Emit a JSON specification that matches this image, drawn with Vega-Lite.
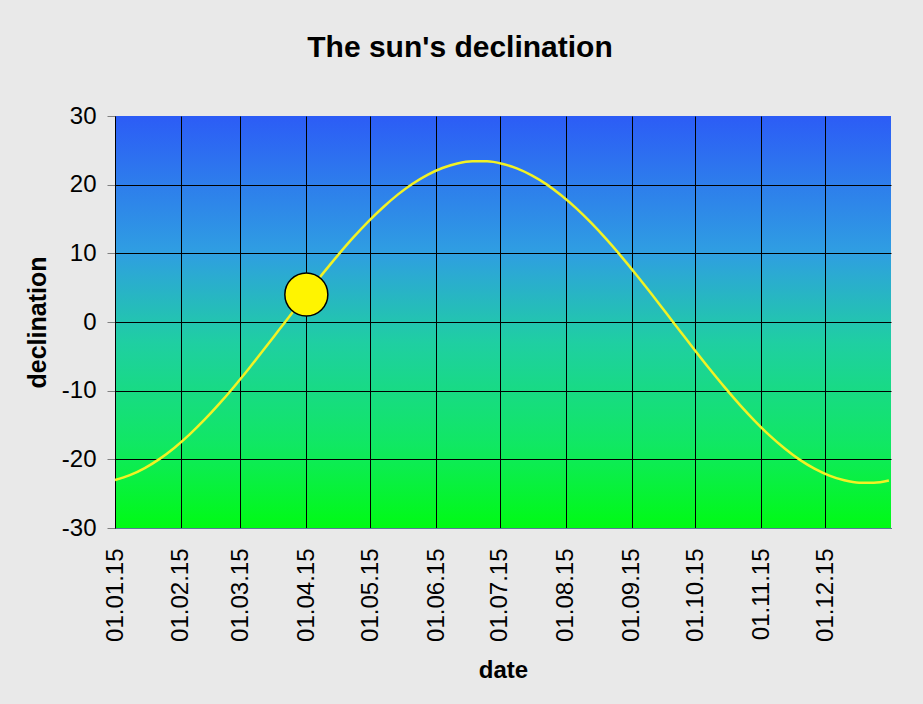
{
  "$schema": "https://vega.github.io/schema/vega-lite/v6.json",
  "width": 776,
  "height": 412,
  "autosize": "none",
  "padding": {"left": 115, "top": 116, "right": 32, "bottom": 176},
  "background": "#e9e9e9",
  "config": {
    "font": "Liberation Sans",
    "view": {
      "stroke": null,
      "fill": {
        "gradient": "linear",
        "x1": 0, "y1": 0, "x2": 0, "y2": 1,
        "stops": [
          {"offset": 0, "color": "#2c5cf6"},
          {"offset": 0.33, "color": "#2f9ee2"},
          {"offset": 0.55, "color": "#1fcfa2"},
          {"offset": 0.8, "color": "#10e862"},
          {"offset": 1, "color": "#00fb14"}
        ]
      }
    }
  },
  "title": {
    "text": "The sun's declination",
    "fontSize": 30,
    "fontWeight": "bold",
    "font": "Liberation Sans",
    "color": "black",
    "frame": "group",
    "anchor": "middle",
    "dx": -43,
    "baseline": "alphabetic",
    "offset": 17
  },
  "datasets": {
    "sun": [{"date": "2015-04-01", "decl": 4.0}],
    "curve": [
      {"date": "2015-01-01", "decl": -23.01},
      {"date": "2015-01-08", "decl": -22.30},
      {"date": "2015-01-15", "decl": -21.27},
      {"date": "2015-01-22", "decl": -19.93},
      {"date": "2015-01-29", "decl": -18.30},
      {"date": "2015-02-05", "decl": -16.40},
      {"date": "2015-02-12", "decl": -14.27},
      {"date": "2015-02-19", "decl": -11.93},
      {"date": "2015-02-26", "decl": -9.42},
      {"date": "2015-03-05", "decl": -6.77},
      {"date": "2015-03-12", "decl": -4.02},
      {"date": "2015-03-19", "decl": -1.21},
      {"date": "2015-03-26", "decl": 1.61},
      {"date": "2015-04-02", "decl": 4.41},
      {"date": "2015-04-09", "decl": 7.15},
      {"date": "2015-04-16", "decl": 9.78},
      {"date": "2015-04-23", "decl": 12.28},
      {"date": "2015-04-30", "decl": 14.59},
      {"date": "2015-05-07", "decl": 16.68},
      {"date": "2015-05-14", "decl": 18.55},
      {"date": "2015-05-21", "decl": 20.14},
      {"date": "2015-05-28", "decl": 21.44},
      {"date": "2015-06-04", "decl": 22.43},
      {"date": "2015-06-11", "decl": 23.09},
      {"date": "2015-06-18", "decl": 23.41},
      {"date": "2015-06-25", "decl": 23.40},
      {"date": "2015-07-02", "decl": 23.05},
      {"date": "2015-07-09", "decl": 22.36},
      {"date": "2015-07-16", "decl": 21.35},
      {"date": "2015-07-23", "decl": 20.04},
      {"date": "2015-07-30", "decl": 18.42},
      {"date": "2015-08-06", "decl": 16.55},
      {"date": "2015-08-13", "decl": 14.43},
      {"date": "2015-08-20", "decl": 12.10},
      {"date": "2015-08-27", "decl": 9.60},
      {"date": "2015-09-03", "decl": 6.96},
      {"date": "2015-09-10", "decl": 4.22},
      {"date": "2015-09-17", "decl": 1.41},
      {"date": "2015-09-24", "decl": -1.41},
      {"date": "2015-10-01", "decl": -4.22},
      {"date": "2015-10-08", "decl": -6.96},
      {"date": "2015-10-15", "decl": -9.60},
      {"date": "2015-10-22", "decl": -12.10},
      {"date": "2015-10-29", "decl": -14.43},
      {"date": "2015-11-05", "decl": -16.55},
      {"date": "2015-11-12", "decl": -18.42},
      {"date": "2015-11-19", "decl": -20.04},
      {"date": "2015-11-26", "decl": -21.35},
      {"date": "2015-12-03", "decl": -22.36},
      {"date": "2015-12-10", "decl": -23.05},
      {"date": "2015-12-17", "decl": -23.40},
      {"date": "2015-12-24", "decl": -23.41},
      {"date": "2015-12-31", "decl": -23.09}
    ]
  },
  "encoding": {
    "x": {
      "field": "date",
      "type": "temporal",
      "title": "date",
      "scale": {
        "type": "utc",
        "domain": [
          {"year": 2015, "month": 1, "date": 1, "utc": true},
          {"year": 2016, "month": 1, "date": 1, "utc": true}
        ],
        "nice": false
      },
      "axis": {
        "values": [
          {"year": 2015, "month": 1, "date": 1, "utc": true},
          {"year": 2015, "month": 2, "date": 1, "utc": true},
          {"year": 2015, "month": 3, "date": 1, "utc": true},
          {"year": 2015, "month": 4, "date": 1, "utc": true},
          {"year": 2015, "month": 5, "date": 1, "utc": true},
          {"year": 2015, "month": 6, "date": 1, "utc": true},
          {"year": 2015, "month": 7, "date": 1, "utc": true},
          {"year": 2015, "month": 8, "date": 1, "utc": true},
          {"year": 2015, "month": 9, "date": 1, "utc": true},
          {"year": 2015, "month": 10, "date": 1, "utc": true},
          {"year": 2015, "month": 11, "date": 1, "utc": true},
          {"year": 2015, "month": 12, "date": 1, "utc": true}
        ],
        "format": "%d.%m.%y",
        "labelAngle": 270,
        "labelAlign": "right",
        "labelBaseline": "middle",
        "labelFontSize": 24,
        "labelColor": "black",
        "labelPadding": 20,
        "labelFlush": false,
        "labelOverlap": false,
        "ticks": false,
        "tickSize": 0,
        "grid": true,
        "gridColor": "black",
        "gridWidth": 1,
        "gridOpacity": 1,
        "domainColor": "#5a7a98",
        "domainWidth": 1,
        "titleFontSize": 24,
        "titleFontWeight": "bold",
        "titleColor": "black",
        "titlePadding": 17
      }
    },
    "y": {
      "field": "decl",
      "type": "quantitative",
      "title": "declination",
      "scale": {"domain": [-30, 30], "nice": false, "zero": false},
      "axis": {
        "values": [-30, -20, -10, 0, 10, 20, 30],
        "labelExpr": "toString(datum.value)",
        "labelFontSize": 24,
        "labelColor": "black",
        "labelPadding": 11,
        "tickSize": 8,
        "tickColor": "#808080",
        "grid": true,
        "gridColor": {"condition": {"test": "datum.value === 30", "value": "transparent"}, "value": "black"},
        "gridWidth": 1,
        "gridOpacity": 1,
        "domainColor": "black",
        "titleFontSize": 25,
        "titleFontWeight": "bold",
        "titleColor": "black",
        "titlePadding": 11
      }
    }
  },
  "layer": [
    {
      "data": {"name": "curve"},
      "mark": {"type": "line", "color": "#f2f224", "strokeWidth": 2.5, "interpolate": "monotone"}
    },
    {
      "data": {"name": "sun"},
      "mark": {"type": "point", "shape": "circle", "filled": true, "size": 1850, "color": "#fff400", "stroke": "black", "strokeWidth": 1.5, "opacity": 1}
    }
  ]
}
